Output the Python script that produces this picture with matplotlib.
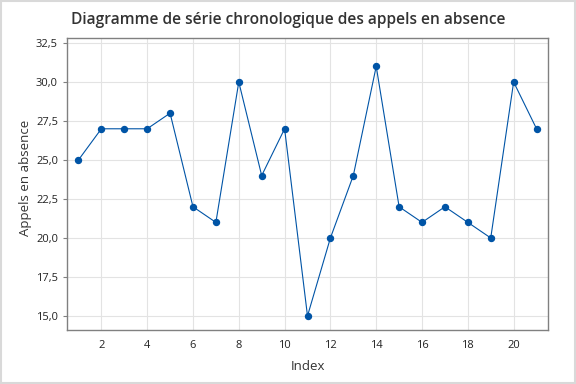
import matplotlib
matplotlib.use("Agg")
import matplotlib.pyplot as plt
from matplotlib.ticker import FuncFormatter

plt.rcParams['font.family'] = ['Open Sans', 'DejaVu Sans']

index = list(range(1, 22))
appels = [25, 27, 27, 27, 28, 22, 21, 30, 24, 27, 15, 20, 24, 31, 22, 21, 22, 21, 20, 30, 27]
xticks = [2, 4, 6, 8, 10, 12, 14, 16, 18, 20]
yticks = [15.0, 17.5, 20.0, 22.5, 25.0, 27.5, 30.0, 32.5]

fig = plt.figure(figsize=(5.76, 3.84), dpi=100)
ax = fig.add_axes([67/576, 1-330/384, (548-67)/576, (330-38)/384])

ax.plot(index, appels, color='#0054A6', lw=0.8, marker='o', ms=4.3, zorder=3)

ax.set_xlim(0.5, 21.5)
ax.set_ylim(14.1, 32.82)
ax.set_xticks(xticks)
ax.set_yticks(yticks)
ax.yaxis.set_major_formatter(FuncFormatter(lambda v, p: f"{v:.1f}".replace('.', ',')))
ax.grid(True, color='#e3e3e3', lw=0.8, zorder=0)
ax.set_axisbelow(True)
for s in ax.spines.values():
    s.set_color('#808080')
    s.set_linewidth(1.0)
ax.tick_params(axis='x', length=0, pad=7, labelsize=8, colors='#222222')
ax.tick_params(axis='y', length=3, width=0.8, color='#808080', labelsize=8, labelcolor='#222222')

ax.set_xlabel('Index', fontsize=9.5, color='#333333', labelpad=7)
ax.set_ylabel('Appels en absence', fontsize=9.5, color='#333333')
ax.yaxis.set_label_coords(-0.073, 0.52)
fig.text(0.5, 1-20/384, 'Diagramme de série chronologique des appels en absence',
         ha='center', va='center', fontsize=11.2, fontweight='semibold', color='#333333')

fig.patches.append(plt.Rectangle((0.002, 0.003), 0.996, 0.994, transform=fig.transFigure,
                                 fill=False, edgecolor='#d9d9d9', lw=1.5))

fig.savefig('out.png', dpi=100)
